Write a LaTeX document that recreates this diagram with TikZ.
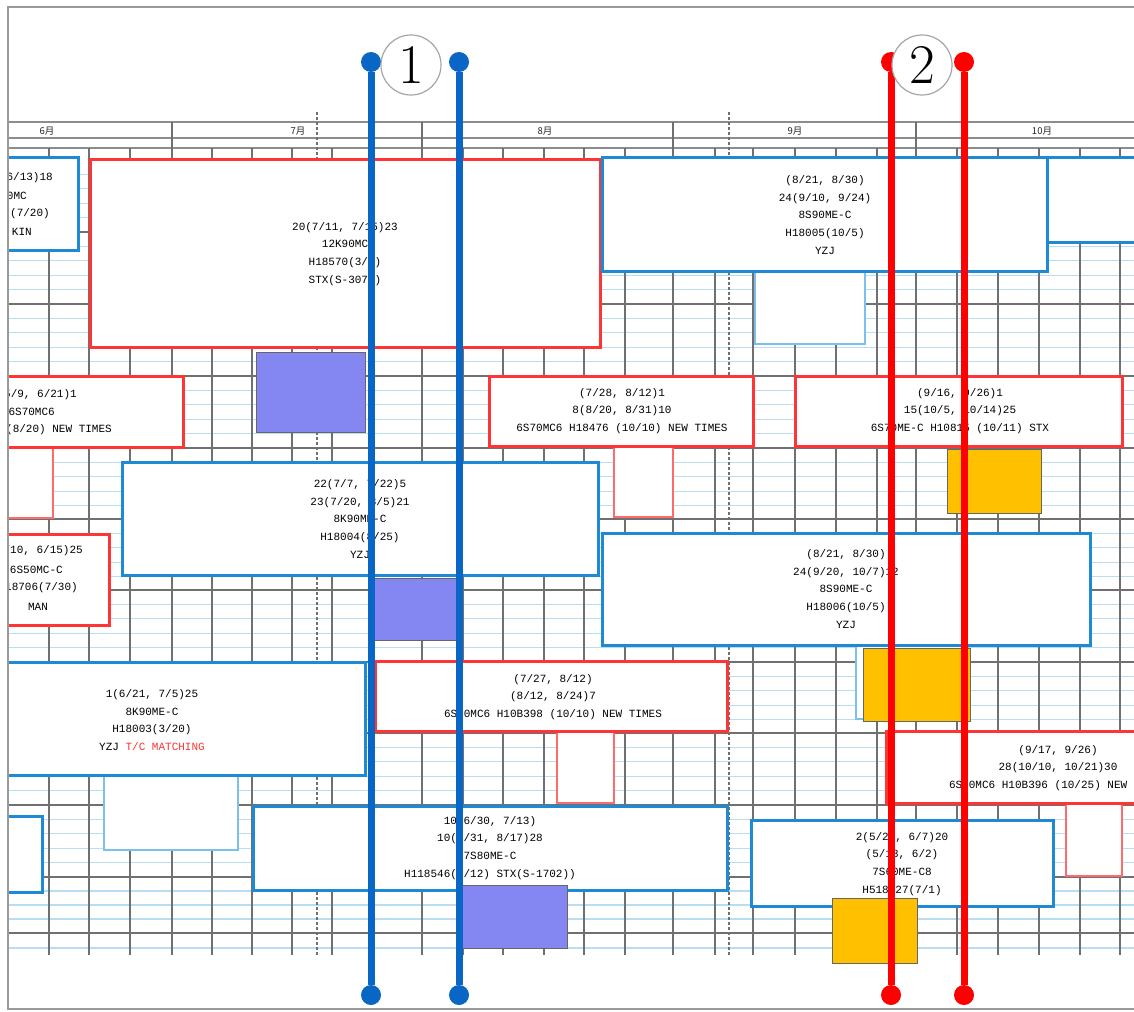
\documentclass[tikz,border=0pt]{standalone}
\usepackage{fontspec}
\usepackage{tikz}
\newfontfamily\cjk{Noto Sans CJK SC}
\newfontfamily\chartfont{Liberation Mono}
\definecolor{boxblue}{HTML}{1F8AD4}
\definecolor{thinblue}{HTML}{7CC0EC}
\definecolor{boxred}{HTML}{FF3535}
\definecolor{thinred}{HTML}{FF6A6A}
\definecolor{markblue}{HTML}{0966C4}
\definecolor{markred}{HTML}{FF0000}
\definecolor{lilac}{HTML}{8486F2}
\definecolor{amber}{HTML}{FFC000}
\definecolor{gridblue}{HTML}{B9DDF3}
\definecolor{gridgray}{HTML}{707070}

\tikzset{
  bluebox/.style={draw=boxblue,line width=3pt,fill=white},
  redbox/.style={draw=boxred,line width=3pt,fill=white},
  thinbluebox/.style={draw=thinblue,line width=1.6pt,fill=white},
  thinredbox/.style={draw=thinred,line width=1.6pt,fill=white},
  lilacfill/.style={fill=lilac,draw=gray!80!black,line width=1pt},
  amberfill/.style={fill=amber,draw=gray!80!black,line width=1pt},
  txt/.style={font=\chartfont\fontsize{11}{17.8}\selectfont,align=center,inner sep=0pt},
  frag/.style={font=\chartfont\fontsize{11}{17.8}\selectfont,inner sep=0pt,anchor=east},
  monthlbl/.style={font=\cjk\fontsize{9.5}{10}\selectfont,inner sep=0pt,text=black!85},
  bdot/.style={circle,fill=markblue,inner sep=0pt,minimum size=20pt},
  rdot/.style={circle,fill=markred,inner sep=0pt,minimum size=20pt},
  numcirc/.style={circle,draw=gray!70,line width=1.2pt,fill=white,inner sep=0pt,
    minimum size=60pt,font=\fontsize{56}{56}\selectfont}
}

\begin{document}
\begin{tikzpicture}[x=1pt,y=-1pt]
  \useasboundingbox (0,0) rectangle (1134,1011);
  \fill[white] (0,0) rectangle (1134,1011);

  \begin{scope}
  \clip (8,7) rectangle (1134,1009);
  % header rows
  \foreach \hy in {122,138,148}
    \draw[gridgray!80,line width=1.3pt] (8,\hy) -- (1134,\hy);
  \foreach \hx in {172,422,673,916}
    \draw[gridgray,line width=1.2pt] (\hx,122) -- (\hx,148);
  \node[monthlbl] (mon6) at (47,131) {6月};
  \node[monthlbl] (mon7) at (298,131) {7月};
  \node[monthlbl] (mon8) at (545,131) {8月};
  \node[monthlbl] (mon9) at (795,131) {9月};
  \node[monthlbl] (mon10) at (1042,131) {10月};

  % grid
  \foreach \hy in {160,232,304,376,448,519,590,662,733,805}
    \foreach \k in {1,...,4}
      \draw[gridblue,line width=1.2pt] (8,\hy+14.4*\k) -- (1134,\hy+14.4*\k);
  \foreach \hy in {891,905,919,948}
    \draw[gridblue,line width=1.2pt] (8,\hy) -- (1134,\hy);
  \foreach \hy in {232,304,376,448,519,590,662,733,805,877,933}
    \draw[gridgray,line width=1.3pt] (8,\hy) -- (1134,\hy);
  \foreach \gx in {49,89,130,172,212,252,292,332,374,422,463,503,544,584,625,673,715,
                   753,795,836,877,916,957,998,1039,1080,1120}
    \draw[gridgray,line width=1.2pt] (\gx,148) -- (\gx,955);
  \foreach \gx in {317,729}
    \draw[gridgray,line width=1.2pt,densely dashed] (\gx,112) -- (\gx,955);

  % schedule boxes
  \draw[thinbluebox] (755,271) rectangle (865,344);
  \draw[thinredbox] (4,447) rectangle (53,518);
  \draw[thinredbox] (614,446) rectangle (673,517);
  \draw[thinbluebox] (856,645) rectangle (968,719);
  \draw[thinredbox] (557,731) rectangle (614,803);
  \draw[thinredbox] (1066,803) rectangle (1122,876);
  \draw[thinbluebox] (104,775) rectangle (238,850);

  \draw[bluebox] (4,158) rectangle (78,250);
  \draw[redbox] (90,160) rectangle (600,347);
  \draw[bluebox] (602,158) rectangle (1047,271);
  \draw[bluebox] (1047,158) rectangle (1140,242);
  \draw[redbox] (4,376) rectangle (183,447);
  \draw[redbox] (489,376) rectangle (753,446);
  \draw[redbox] (795,376) rectangle (1122,446);
  \draw[bluebox] (122,462) rectangle (598,575);
  \draw[redbox] (4,534) rectangle (109,625);
  \draw[bluebox] (602,533) rectangle (1090,645);
  \draw[bluebox] (4,662) rectangle (365,775);
  \draw[redbox] (375,661) rectangle (727,731);
  \draw[redbox] (886,731) rectangle (1140,803);
  \draw[bluebox] (4,816) rectangle (42,892);
  \draw[bluebox] (253,806) rectangle (727,890);
  \draw[bluebox] (751,820) rectangle (1053,906);

  \draw[lilacfill] (256,352) rectangle (365,432);
  \draw[lilacfill] (370,578) rectangle (460,640);
  \draw[lilacfill] (462,885) rectangle (567,948);
  \draw[amberfill] (947,449) rectangle (1041,513);
  \draw[amberfill] (863,648) rectangle (970,721);
  \draw[amberfill] (832,898) rectangle (917,963);

  % box texts
  \node[frag] (a1) at (53,178) {6/13)18};
  \node[frag] (a2) at (27,196) {0MC};
  \node[frag] (a3) at (50,214) {(7/20)};
  \node[frag] (a4) at (32,232) {KIN};
  \node[txt] (b) at (345,254) {20(7/11, 7/15)23\\12K90MC\\H18570(3/5)\\STX(S-3071)};
  \node[txt] (c) at (825,215) {(8/21, 8/30)\\24(9/10, 9/24)\\8S90ME-C\\H18005(10/5)\\YZJ};
  \node[frag] (d1) at (77,395) {5/9, 6/21)1};
  \node[frag] (d2) at (55,412) {6S70MC6};
  \node[frag] (d3) at (112,430) {(8/20) NEW TIMES};
  \node[txt] (e) at (622,411) {(7/28, 8/12)1\\8(8/20, 8/31)10\\6S70MC6 H18476 (10/10) NEW TIMES};
  \node[txt] (f) at (960,411) {(9/16, 9/26)1\\15(10/5, 10/14)25\\6S70ME-C H10815 (10/11) STX};
  \node[txt] (g) at (360,519) {22(7/7, 7/22)5\\23(7/20, 8/5)21\\8K90ME-C\\H18004(8/25)\\YZJ};
  \node[frag] (h1) at (83,551) {/10, 6/15)25};
  \node[frag] (h2) at (63,570) {6S50MC-C};
  \node[frag] (h3) at (78,588) {18706(7/30)};
  \node[txt] (h4) at (38,607) {MAN};
  \node[txt] (k) at (846,589) {(8/21, 8/30)\\24(9/20, 10/7)12\\8S90ME-C\\H18006(10/5)\\YZJ};
  \node[txt] (l) at (152,720) {1(6/21, 7/5)25\\8K90ME-C\\H18003(3/20)\\YZJ \textcolor{boxred}{T/C MATCHING}};
  \node[txt] (n) at (553,697) {(7/27, 8/12)\\(8/12, 8/24)7\\6S70MC6 H10B398 (10/10) NEW TIMES};
  \node[txt] (p) at (1058,768) {(9/17, 9/26)\\28(10/10, 10/21)30\\6S70MC6 H10B396 (10/25) NEW TIMES};
  \node[txt] (q) at (490,848) {10(6/30, 7/13)\\10(7/31, 8/17)28\\7S80ME-C\\H118546(8/12) STX(S-1702))};
  \node[txt] (r) at (902,864) {2(5/23, 6/7)20\\(5/18, 6/2)\\7S60ME-C8\\H518227(7/1)};
  \end{scope}

  % frame
  \draw[gray!80,line width=1.2pt] (1140,7) -- (8,7) -- (8,1009) -- (1140,1009);

  % cut lines
  \node[bdot] (b1t) at (371,62) {};
  \node[bdot] (b1b) at (371,995) {};
  \node[bdot] (b2t) at (459,62) {};
  \node[bdot] (b2b) at (459,995) {};
  \node[rdot] (r1t) at (891,62) {};
  \node[rdot] (r1b) at (891,995) {};
  \node[rdot] (r2t) at (964,62) {};
  \node[rdot] (r2b) at (964,995) {};
  \draw[markblue,line width=7pt] (b1t) -- (b1b);
  \draw[markblue,line width=7pt] (b2t) -- (b2b);
  \draw[markred,line width=7pt] (r1t) -- (r1b);
  \draw[markred,line width=7pt] (r2t) -- (r2b);
  \node[numcirc] (cut1) at (411,65) {1};
  \node[numcirc] (cut2) at (922,65) {2};
\end{tikzpicture}
\end{document}
